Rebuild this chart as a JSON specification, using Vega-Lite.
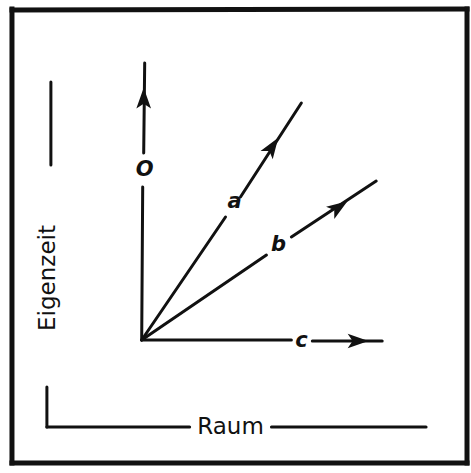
{
  "$schema": "https://vega.github.io/schema/vega-lite/v6.json",
  "width": 471,
  "height": 473,
  "padding": 0,
  "autosize": {"type": "fit", "contains": "padding"},
  "background": "white",
  "config": {"view": {"stroke": null}},
  "datasets": {
    "frame": [
      {"x": -130, "y": 330, "x2": 326, "y2": 331},
      {"x": -130, "y": -123, "x2": 326, "y2": -123},
      {"x": -130, "y": 331, "x2": -130, "y2": -123},
      {"x": 326, "y": 331, "x2": 326, "y2": -123}
    ],
    "lines": [
      {"name": "O", "x": 0, "y": 0, "x2": 1, "y2": 153},
      {"name": "O", "x": 2, "y": 187, "x2": 3, "y2": 277},
      {"name": "a", "x": 0, "y": 0, "x2": 84, "y2": 123},
      {"name": "a", "x": 99, "y": 143, "x2": 160, "y2": 237},
      {"name": "b", "x": 0, "y": 0, "x2": 125, "y2": 85},
      {"name": "b", "x": 150, "y": 103, "x2": 235, "y2": 159},
      {"name": "c", "x": 0, "y": 0, "x2": 150, "y2": 0},
      {"name": "c", "x": 171, "y": -1, "x2": 241, "y2": -1}
    ],
    "brackets": [
      {"x": -91, "y": 258, "x2": -91, "y2": 175},
      {"x": -95, "y": -47, "x2": -95, "y2": -87},
      {"x": -95, "y": -87, "x2": 48, "y2": -87},
      {"x": 130, "y": -87, "x2": 285, "y2": -87}
    ],
    "arrows": [
      {"name": "O", "x": 2, "y": 240, "angle": 0},
      {"name": "a", "x": 130, "y": 192, "angle": 34},
      {"name": "b", "x": 196, "y": 132, "angle": 56},
      {"name": "c", "x": 215, "y": -1, "angle": 90}
    ],
    "labels": [
      {"text": "O", "x": 3, "y": 170},
      {"text": "a", "x": 93, "y": 138},
      {"text": "b", "x": 137, "y": 95},
      {"text": "c", "x": 160, "y": -1}
    ],
    "titles": [
      {"text": "Raum", "x": 89, "y": -87, "angle": 0},
      {"text": "Eigenzeit", "x": -94, "y": 62, "angle": 270}
    ]
  },
  "layer": [
    {
      "data": {"name": "frame"},
      "mark": {"type": "rule", "color": "#111", "strokeWidth": 5, "strokeCap": "square"},
      "encoding": {
        "x": {"field": "x", "type": "quantitative", "scale": {"domain": [-142, 329], "nice": false, "zero": false}, "axis": null},
        "y": {"field": "y", "type": "quantitative", "scale": {"domain": [-133, 340], "nice": false, "zero": false}, "axis": null},
        "x2": {"field": "x2"},
        "y2": {"field": "y2"}
      }
    },
    {
      "data": {"name": "lines"},
      "mark": {"type": "rule", "color": "#111", "strokeWidth": 3, "strokeCap": "round"},
      "encoding": {
        "x": {"field": "x", "type": "quantitative"},
        "y": {"field": "y", "type": "quantitative"},
        "x2": {"field": "x2"},
        "y2": {"field": "y2"}
      }
    },
    {
      "data": {"name": "brackets"},
      "mark": {"type": "rule", "color": "#111", "strokeWidth": 3, "strokeCap": "round"},
      "encoding": {
        "x": {"field": "x", "type": "quantitative"},
        "y": {"field": "y", "type": "quantitative"},
        "x2": {"field": "x2"},
        "y2": {"field": "y2"}
      }
    },
    {
      "data": {"name": "arrows"},
      "mark": {"type": "point", "filled": true, "color": "#111", "opacity": 1, "size": 600, "shape": "M0,-1L0.6,0.7L0,0.3L-0.6,0.7Z"},
      "encoding": {
        "x": {"field": "x", "type": "quantitative"},
        "y": {"field": "y", "type": "quantitative"},
        "angle": {"field": "angle", "type": "quantitative", "scale": null}
      }
    },
    {
      "data": {"name": "labels"},
      "mark": {"type": "text", "font": "DejaVu Sans", "fontSize": 21, "fontStyle": "italic", "fontWeight": "bold", "color": "#111", "align": "center", "baseline": "middle"},
      "encoding": {
        "x": {"field": "x", "type": "quantitative"},
        "y": {"field": "y", "type": "quantitative"},
        "text": {"field": "text"}
      }
    },
    {
      "data": {"name": "titles"},
      "mark": {"type": "text", "font": "DejaVu Sans", "fontSize": 23, "color": "#111", "align": "center", "baseline": "middle"},
      "encoding": {
        "x": {"field": "x", "type": "quantitative"},
        "y": {"field": "y", "type": "quantitative"},
        "angle": {"field": "angle", "type": "quantitative", "scale": null},
        "text": {"field": "text"}
      }
    }
  ]
}
